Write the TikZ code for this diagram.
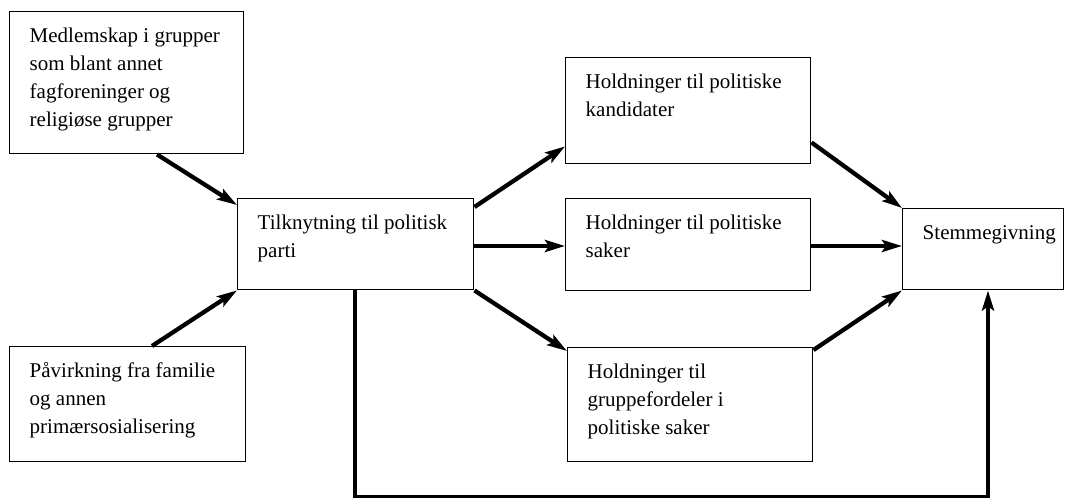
\documentclass[tikz,border=0pt]{standalone}
\usepackage{fontspec}
\setmainfont{Liberation Serif}
\usetikzlibrary{arrows.meta,calc}
\newcommand\boxtext[3]{\parbox[t][#2][t]{#1}{\leftskip=15pt\rightskip=0pt plus 1fil\parindent=0pt\strut #3}}
\begin{document}
\begin{tikzpicture}[x=0.75pt,y=-0.75pt,
  box/.style={draw, line width=1.1pt, inner sep=0pt, inner ysep=8.5pt, anchor=north west,
    font=\fontsize{15.75}{21}\selectfont},
  arr/.style={line width=3.2pt, -{Stealth[length=15pt,width=9pt,inset=3pt]}},
  loopline/.style={line width=3.2pt, line join=miter, -{Stealth[length=15pt,width=9pt,inset=3pt]}}]
\useasboundingbox (0,0) rectangle (1068,498);
\node[box] (A) at (9,11) {\boxtext{175.5pt}{89.5pt}{Medlemskap i grupper\\ som blant annet\\ fagforeninger og\\ religiøse grupper}};
\node[box] (B) at (9,346) {\boxtext{177pt}{69.25pt}{Påvirkning fra familie\\ og annen\\ primærsosialisering}};
\node[box] (C) at (237,198) {\boxtext{177pt}{51.25pt}{Tilknytning til politisk\\ parti}};
\node[box] (D) at (565,57) {\boxtext{183.75pt}{62.5pt}{Holdninger til politiske\\ kandidater}};
\node[box] (E) at (565,198) {\boxtext{183.75pt}{52pt}{Holdninger til politiske\\ saker}};
\node[box] (G) at (567,347) {\boxtext{183.75pt}{68.5pt}{Holdninger til\\ gruppefordeler i\\ politiske saker}};
\node[box] (F) at (902,208) {\boxtext{120.75pt}{43.75pt}{Stemmegivning}};
\draw[arr] ($(A.south west)+(148,0)$) -- ($(C.north west)+(0,7)$);
\draw[arr] ($(B.north west)+(143,0)$) -- (C.south west);
\draw[arr] ($(C.north east)+(0,9)$) -- ($(D.south west)+(0,-18)$);
\draw[arr] ($(C.north east)+(0,48)$) -- ($(E.north west)+(0,48)$);
\draw[arr] (C.south east) -- ($(G.north west)+(0,4)$);
\draw[arr] ($(D.south east)+(0,-22)$) -- (F.north west);
\draw[arr] ($(E.north east)+(0,48)$) -- ($(F.north west)+(0,38)$);
\draw[arr] ($(G.north east)+(0,3)$) -- (F.south west);
\draw[loopline] ($(C.south west)+(118,0)$) -- ++(0,207) -| ($(F.south west)+(86,0)$);
\end{tikzpicture}
\end{document}
